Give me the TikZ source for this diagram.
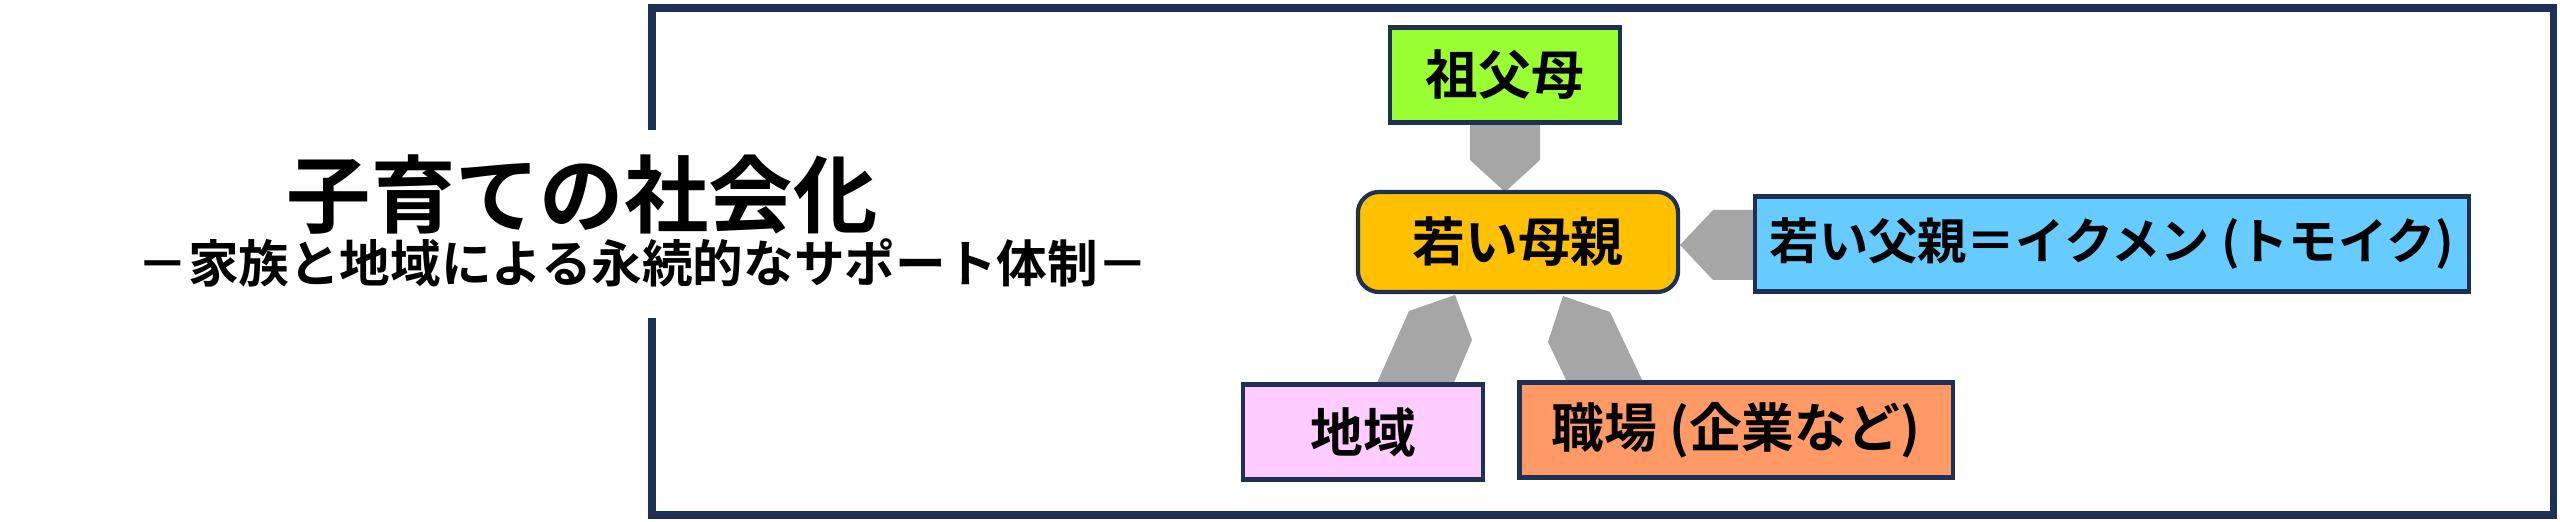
\documentclass[tikz,border=0pt]{standalone}
\usepackage{fontspec}
\newfontfamily\jp{Noto Sans CJK JP Bold}
\definecolor{navy}{HTML}{1F3057}
\definecolor{arr}{HTML}{A6A6A6}
\begin{document}
\begin{tikzpicture}[x=0.01cm,y=-0.01cm,
  box/.style={draw=navy,line width=1.2pt,minimum height=0.95cm,inner sep=0pt,font=\jp\fontsize{15}{18}\selectfont},
  garrow/.style={fill=arr,draw=none}]
\useasboundingbox (0,0) rectangle (2560,522);
\draw[navy,line width=2pt] (652,130) -- (652,8) -- (2553,8) -- (2553,515) -- (652,515) -- (652,318);
\node[font=\jp\fontsize{24}{28}\selectfont] (t) at (582,195) {子育ての社会化};
\node[font=\jp\fontsize{14.4}{17}\selectfont] (s) at (643,263) {－家族と地域による永続的なサポート体制－};
\fill[garrow] (1470,122) -- (1540,122) -- (1540,160) -- (1505,192) -- (1470,160) -- cycle;
\fill[garrow] (1756,210) -- (1713,210) -- (1680,245) -- (1713,280) -- (1756,280) -- cycle;
\fill[garrow] (1376,385) -- (1409,311) -- (1455,295) -- (1472,340) -- (1453,385) -- cycle;
\fill[garrow] (1567,382) -- (1548,342) -- (1563,296) -- (1610,312) -- (1643,382) -- cycle;
\node[box,fill={rgb,255:red,153;green,255;blue,51},minimum width=2.3cm] (g) at (1505,75) {祖父母};
\node[box,fill={rgb,255:red,255;green,192;blue,0},rounded corners=6pt,minimum width=3.2cm,minimum height=1cm] (m) at (1518,242) {若い母親};
\node[box,fill={rgb,255:red,102;green,204;blue,255},minimum width=7.13cm,font=\jp\fontsize{14}{17}\selectfont] (f) at (2112,244) {若い父親＝イクメン (トモイク)};
\node[box,fill={rgb,255:red,255;green,204;blue,255},minimum width=2.4cm] (c) at (1363,432) {地域};
\node[box,fill={rgb,255:red,255;green,153;blue,102},minimum width=4.33cm] (w) at (1736,430) {職場 (企業など)};
\end{tikzpicture}
\end{document}
